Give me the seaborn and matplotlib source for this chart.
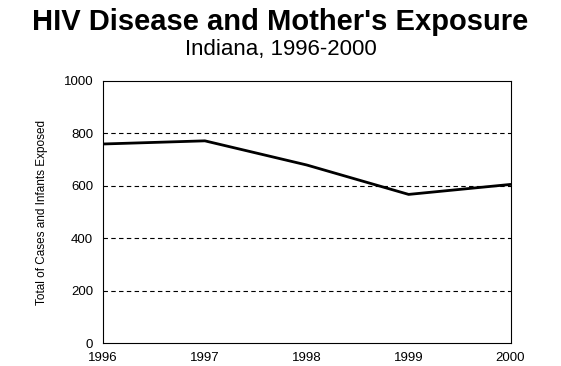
import pandas as pd
import matplotlib
matplotlib.use('Agg')
import matplotlib.pyplot as plt
import seaborn as sns

# Data
years = [1996, 1997, 1998, 1999, 2000]
totals = [759, 771, 679, 567, 605]

df = pd.DataFrame({'year': years, 'total': totals})

sns.set_style('white')
plt.rcParams['font.family'] = ['Liberation Sans', 'DejaVu Sans']

fig = plt.figure(figsize=(5.61, 3.66), dpi=100)
ax = fig.add_axes([0.1836, 0.062, 0.7264, 0.7175])

sns.lineplot(data=df, x='year', y='total', ax=ax, color='black', linewidth=2)

ax.set_xlim(1996, 2000)
ax.set_ylim(0, 1000)
ax.set_xticks(years)
ax.set_xticklabels([str(y) for y in years])
ax.set_yticks([0, 200, 400, 600, 800, 1000])
for yv in [200, 400, 600, 800]:
    ax.axhline(yv, color='black', linestyle=(0, (4, 3)), linewidth=0.8, zorder=0)

ax.tick_params(axis='x', length=0, labelsize=9.5, pad=6, colors='black')
ax.tick_params(axis='y', length=0, labelsize=9.5, pad=7, colors='black')
ax.set_xlabel('')
ax.set_ylabel('Total of Cases and Infants Exposed', fontsize=8.5, labelpad=11,
              color='black')
for s in ax.spines.values():
    s.set_color('black')
    s.set_linewidth(0.8)

fig.text(0.5, 0.94, "HIV Disease and Mother's Exposure", ha='center', va='center',
         fontsize=21, fontweight='bold', color='black')
fig.text(0.5, 0.865, 'Indiana, 1996-2000', ha='center', va='center', fontsize=16,
         color='black')

fig.savefig('out.png', dpi=100)
